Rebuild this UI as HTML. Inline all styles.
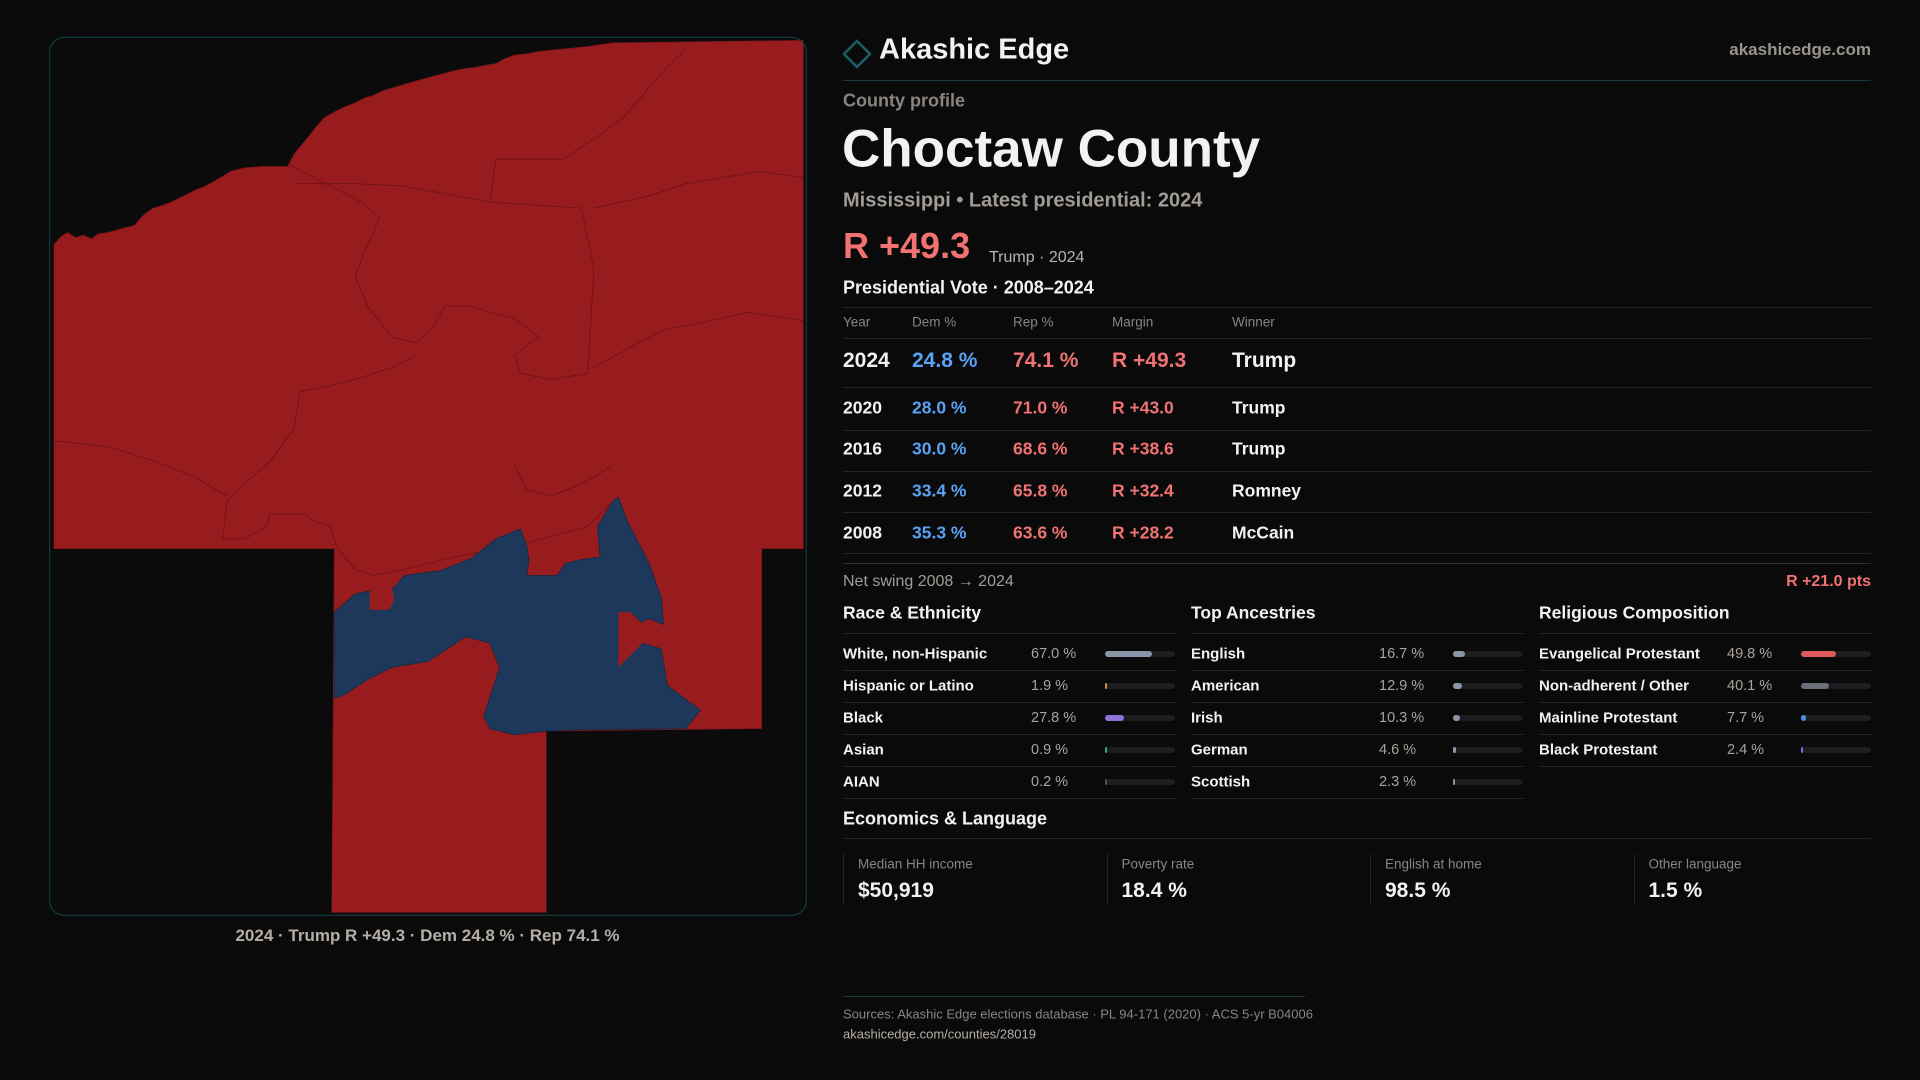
<!DOCTYPE html>
<html><head><meta charset="utf-8">
<style>
*{margin:0;padding:0;box-sizing:border-box}
body{width:1920px;height:1080px;background:#0a0a0b;overflow:hidden;position:relative;font-family:"Liberation Sans",sans-serif;color:#f2f2f2}
.a{position:absolute;white-space:nowrap}
.hl{position:absolute;height:1px;background:#242428}
.lbl{transform:translateY(-50%)}
</style></head><body>
<svg class="a" style="left:0;top:0" width="1920" height="1080" viewBox="0 0 1568 882">
  <rect x="40.5" y="30.5" width="618" height="717" rx="12" fill="#0b0b0c" stroke="#13363b" stroke-width="1"/>
  <path fill="#981b1e" stroke="#7a1418" stroke-width="0.6" d="M44,200 L50,193 L55,190 L62,194 L68,192 L75,195 L80,191 L88,190 L95,188 L102,186 L110,184 L115,178 L118,175 L125,170 L132,168 L140,165 L150,160 L160,155 L168,152 L175,148 L182,144 L188,140 L200,137 L215,136 L235,136 L240,126 L250,114 L258,104 L265,96 L272,92 L280,88 L290,84 L298,80 L305,78 L313,74 L320,72 L330,69 L340,66 L355,62 L370,58 L380,56 L388,55 L398,53 L405,52 L412,48 L420,45 L430,44 L440,42 L460,40 L480,38 L500,35 L656,33 L656,448 L622,448 L622,595 L446,597 L446,745 L271,745 L273,448 L44,448 Z"/>
  <g fill="none" stroke="#6e1316" stroke-width="0.7">
    <path d="M44,360 L90,365 L130,378 L160,390 L185,405"/>
    <path d="M237,135 L270,152 L295,165 L310,178 L300,200 L290,225 L300,250 L320,275 L340,280 L355,265 L363,250 L385,250 L400,255 L420,260 L440,275 L420,290 L425,305 L450,310 L480,305 L485,220 L475,170 L400,165 L405,130 L460,130 L490,110 L510,95 L540,60 L560,40"/>
    <path d="M485,300 L540,270 L580,262 L610,255 L656,262"/>
    <path d="M485,170 L530,160 L560,150 L590,145 L620,140 L656,145"/>
    <path d="M400,165 L330,152 L290,150 L240,150"/>
    <path d="M245,320 L270,315 L290,310 L320,300 L340,290"/>
    <path d="M245,320 L240,350 L222,375 L200,395 L185,410 L182,440 L200,440 L218,430 L220,420 L250,420 L255,425 L270,430 L275,447 L290,465 L305,470 L330,465 L370,455 L420,446 L480,430 L500,410"/>
    <path d="M420,380 L430,400 L450,405 L475,395 L485,390 L500,380"/>
  </g>
  <path fill="#1e385b" stroke="#162a45" stroke-width="0.7" d="M273,570 L273,500 L290,485 L305,482 L322,480 L330,470 L360,466 L385,456 L405,440 L425,432 L430,445 L432,458 L430,470 L455,470 L462,460 L475,457 L490,455 L488,430 L500,410 L505,406 L512,425 L530,460 L540,488 L542,510 L530,505 L520,510 L524,525 L540,530 L545,560 L572,580 L560,595 L470,596 L446,597 L420,600 L400,595 L395,585 L400,570 L408,545 L400,525 L380,520 L365,530 L350,540 L320,545 L300,555 L280,568 Z"/>
  <path fill="#981b1e" d="M302,482 L320,480 L322,490 L318,498 L302,498 Z"/>
  <path fill="#981b1e" d="M505,500 L515,500 L525,510 L535,512 L530,520 L515,535 L505,545 Z"/>
  <path fill="#981b1e" d="M273,575 L300,565 L320,552 L350,545 L370,530 L385,525 L400,530 L405,545 L398,570 L393,585 L400,597 L420,602 L446,598 L446,745 L271,745 Z"/>
  <rect x="40.5" y="30.5" width="618" height="717" rx="12" fill="none" stroke="#13363b" stroke-width="1"/>
</svg>
<div class="a lbl" style="left:0;width:855px;text-align:center;top:936px;font-size:17px;color:#b5aea6;font-weight:bold">2024 · Trump R +49.3 · Dem 24.8 % · Rep 74.1 %</div>

<svg class="a" style="left:842px;top:39px" width="30" height="30" viewBox="0 0 30 30"><path d="M15,2 L28,15 L15,28 L2,15 Z" fill="none" stroke="#1d5f66" stroke-width="2.5"/></svg>
<div class="a lbl" style="left:879px;top:50px;font-size:29px;font-weight:bold">Akashic Edge</div>
<div class="a lbl" style="right:49px;top:50px;font-size:17px;font-weight:bold;color:#9a948e">akashicedge.com</div>
<div class="hl" style="left:843px;width:1028px;top:80px;background:#163a3f"></div>

<div class="a lbl" style="left:843px;top:101px;font-size:18px;color:#8a857f;font-weight:bold">County profile</div>
<div class="a lbl" style="left:842px;top:149px;font-size:53px;font-weight:bold">Choctaw County</div>
<div class="a lbl" style="left:843px;top:201px;font-size:20px;color:#a29c96;font-weight:bold">Mississippi • Latest presidential: 2024</div>
<div class="a lbl" style="left:843px;top:246px;font-size:36px;color:#f07272;font-weight:bold">R +49.3</div>
<div class="a lbl" style="left:989px;top:258px;font-size:16px;color:#bbb4ad">Trump · 2024</div>
<div class="a lbl" style="left:843px;top:288px;font-size:18px;font-weight:bold">Presidential Vote · 2008–2024</div>
<div class="hl" style="left:843px;width:1028px;top:307px"></div>
<div id="vt"></div>
<div class="a lbl" style="left:843px;top:582px;font-size:16px;color:#a29c96">Net swing 2008 → 2024</div>
<div class="a lbl" style="right:49px;top:582px;font-size:16px;color:#f07272;font-weight:bold">R +21.0 pts</div>
<div id="demo"></div>
<div class="a lbl" style="left:843px;top:819px;font-size:18px;font-weight:bold">Economics &amp; Language</div>
<div class="hl" style="left:843px;width:1028px;top:838px"></div>
<div id="econ"></div>
<div class="hl" style="left:843px;width:462px;top:996px;background:#163a3f"></div>
<div class="a lbl" style="left:843px;top:1014px;font-size:13px;color:#8a857f">Sources: Akashic Edge elections database · PL 94-171 (2020) · ACS 5-yr B04006</div>
<div class="a lbl" style="left:843px;top:1034px;font-size:13px;color:#b5aea6">akashicedge.com/counties/28019</div>

<script>
const years=["2024","2020","2016","2012","2008"];
const demPct=[24.8,28.0,30.0,33.4,35.3];
const repPct=[74.1,71.0,68.6,65.8,63.6];
const marginValues=[49.3,43.0,38.6,32.4,28.2];
const winners=["Trump","Trump","Trump","Romney","McCain"];
const raceLabels=["White, non-Hispanic","Hispanic or Latino","Black","Asian","AIAN"];
const raceValues=[67.0,1.9,27.8,0.9,0.2];
const ancLabels=["English","American","Irish","German","Scottish"];
const ancValues=[16.7,12.9,10.3,4.6,2.3];
const relLabels=["Evangelical Protestant","Non-adherent / Other","Mainline Protestant","Black Protestant"];
const relValues=[49.8,40.1,7.7,2.4];
const econLabels=["Median HH income","Poverty rate","English at home","Other language"];
const econValues=["$50,919","18.4 %","98.5 %","1.5 %"];

function mk(parent,cls,style,text){const d=document.createElement('div');d.className=cls;d.style.cssText=style;if(text!==undefined)d.textContent=text;parent.appendChild(d);return d;}
const vt=document.getElementById('vt');
const cols=[843,912,1013,1112,1232];
const heads=["Year","Dem %","Rep %","Margin","Winner"];
heads.forEach((h,i)=>{const e=mk(vt,'a lbl',`left:${cols[i]}px;top:322px;font-size:13.5px;color:#8a857f`,h);

});
const l0=mk(vt,'hl','left:843px;width:1028px;top:338px');


const rowY=[361,408,449,491,533];
const lineY=[387,430,471,512,553];
years.forEach((y,i)=>{
  const fs=i===0?21:17.5;
  const vals=[y,demPct[i].toFixed(1)+' %',repPct[i].toFixed(1)+' %','R +'+marginValues[i].toFixed(1),winners[i]];
  const colors=['#f2f2f2','#5aa2f5','#f07272','#f07272','#f2f2f2'];
  vals.forEach((v,j)=>{const e=mk(vt,'a lbl',`left:${cols[j]}px;top:${rowY[i]}px;font-size:${fs}px;font-weight:bold;color:${colors[j]}`,v);
  
  });
  const l=mk(vt,'hl',`left:843px;width:1028px;top:${lineY[i]}px`);
  
  
});
const l2=mk(vt,'hl','left:843px;width:1028px;top:563px;background:#2e2e33');



const demo=document.getElementById('demo');
const groups=[
 {title:"Race & Ethnicity",x:843,labels:raceLabels,values:raceValues,colors:["#8a96a8","#d08a2a","#8f72d8","#2fa88a","#555"]},
 {title:"Top Ancestries",x:1191,labels:ancLabels,values:ancValues,colors:["#8a96a8","#8a96a8","#8a96a8","#8a96a8","#8a96a8"]},
 {title:"Religious Composition",x:1539,labels:relLabels,values:relValues,colors:["#e05a5a","#6a6f7a","#4a8fe0","#7a6fd8"]}
];
groups.forEach((g,gi)=>{
  const t=mk(demo,'a lbl',`left:${g.x}px;top:613px;font-size:17.5px;font-weight:bold`,g.title);
  
  
  const r=mk(demo,'hl',`left:${g.x}px;width:333px;top:633px`);
  
  
  g.labels.forEach((lab,i)=>{
    const cy=654+i*32;
    const a=mk(demo,'a lbl',`left:${g.x}px;top:${cy}px;font-size:15px;font-weight:bold`,lab);
    
    
    const v=mk(demo,'a lbl',`left:${g.x+188}px;top:${cy}px;font-size:14.5px;color:#aaa39c`,g.values[i].toFixed(1)+' %');
    
    
    const tr=mk(demo,'a',`left:${g.x+262}px;top:${cy-3}px;width:70px;height:6px;border-radius:3px;background:#1d1d20`);
    
    
    const w=Math.max(1.5,70*g.values[i]/100);
    const b=mk(demo,'a',`left:${g.x+262}px;top:${cy-3}px;width:${w}px;height:6px;border-radius:3px;background:${g.colors[i]}`);
    
    
    const s=mk(demo,'hl',`left:${g.x}px;width:333px;top:${cy+16}px`);
    
    
  });
});
const econ=document.getElementById('econ');
econLabels.forEach((l,i)=>{
  const x=843+i*263.5;
  const c=mk(econ,'a',`left:${x}px;top:854px;width:1px;height:50px;background:#242428`);
  
  
  const a=mk(econ,'a lbl',`left:${x+15}px;top:864px;font-size:13.5px;color:#8a857f`,l);
  
  
  const v=mk(econ,'a lbl',`left:${x+15}px;top:891px;font-size:21px;font-weight:bold`,econValues[i]);
  
  
});
</script>
</body></html>
